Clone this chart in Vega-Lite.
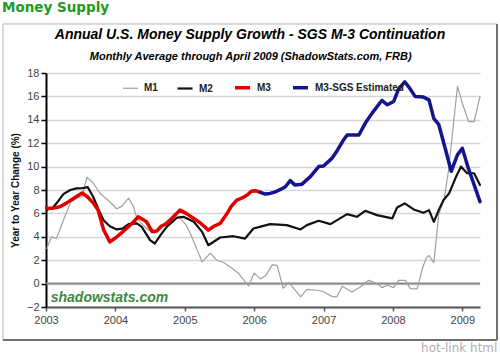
{
  "$schema": "https://vega.github.io/schema/vega-lite/v6.json",
  "autosize": "none",
  "width": 434,
  "height": 234,
  "padding": {"left": 46, "top": 73, "right": 20, "bottom": 53},
  "background": "white",
  "config": {"view": {"stroke": null}, "font": "Liberation Sans"},
  "resolve": {"axis": {"x": "independent", "y": "independent"}},
  "layer": [
    {
      "data": {"values": [{}]},
      "mark": {"type": "rect", "fillOpacity": 0, "stroke": "#b4b4b4", "strokeWidth": 1},
      "encoding": {
        "x": {"datum": 2002.38, "type": "quantitative", "axis": null},
        "x2": {"datum": 2009.5},
        "y": {"datum": 22.19, "type": "quantitative", "axis": null},
        "y2": {"datum": -4.82}
      }
    },
    {
      "data": {"values": [{}]},
      "mark": {"type": "rule", "stroke": "#707070", "strokeWidth": 2},
      "encoding": {
        "x": {"datum": 2002.38, "type": "quantitative", "axis": null},
        "x2": {"datum": 2009.5},
        "y": {"datum": -4.82, "type": "quantitative", "axis": null}
      }
    },
    {
      "data": {"values": [{}]},
      "mark": {"type": "rule", "stroke": "#707070", "strokeWidth": 2},
      "encoding": {
        "x": {"datum": 2009.5, "type": "quantitative", "axis": null},
        "y": {"datum": 22.19, "type": "quantitative", "axis": null},
        "y2": {"datum": -4.82}
      }
    },
    {
      "data": {"values": [{}]},
      "mark": {"type": "rule", "stroke": "#8a8a8a", "strokeWidth": 2},
      "encoding": {
        "y": {"datum": 0, "type": "quantitative", "axis": null}
      }
    },
    {
      "data": {"values": [{"label": "Money Supply"}]},
      "mark": {"type": "text", "font": "DejaVu Sans", "fontSize": 13.5, "fontWeight": "bold", "color": "#229922", "align": "left", "baseline": "alphabetic"},
      "encoding": {
        "x": {"datum": 2002.366, "type": "quantitative", "axis": null},
        "y": {"datum": 23.21, "type": "quantitative", "axis": null},
        "text": {"field": "label"}
      }
    },
    {
      "data": {"values": [{"label": "Annual U.S. Money Supply Growth - SGS M-3 Continuation"}]},
      "mark": {"type": "text", "font": "Liberation Sans", "fontSize": 14, "fontWeight": "bold", "fontStyle": "italic", "color": "#000", "align": "center", "baseline": "alphabetic"},
      "encoding": {
        "x": {"datum": 2005.94, "type": "quantitative", "axis": null},
        "y": {"datum": 20.906, "type": "quantitative", "axis": null},
        "text": {"field": "label"}
      }
    },
    {
      "data": {"values": [{"label": "Monthly Average through April 2009 (ShadowStats.com, FRB)"}]},
      "mark": {"type": "text", "font": "Liberation Sans", "fontSize": 11, "fontWeight": "bold", "fontStyle": "italic", "color": "#000", "align": "center", "baseline": "alphabetic"},
      "encoding": {
        "x": {"datum": 2005.95, "type": "quantitative", "axis": null},
        "y": {"datum": 19.11, "type": "quantitative", "axis": null},
        "text": {"field": "label"}
      }
    },
    {
      "data": {"values": [{"label": "shadowstats.com"}]},
      "mark": {"type": "text", "font": "Liberation Sans", "fontSize": 14, "fontWeight": "bold", "fontStyle": "italic", "color": "#3d8a3d", "align": "left", "baseline": "alphabetic"},
      "encoding": {
        "x": {"datum": 2003.068, "type": "quantitative", "axis": null},
        "y": {"datum": -1.547, "type": "quantitative", "axis": null},
        "text": {"field": "label"}
      }
    },
    {
      "data": {"values": [{"label": "hot-link html"}]},
      "mark": {"type": "text", "font": "DejaVu Sans", "fontSize": 12, "color": "#b0b0b0", "align": "left", "baseline": "alphabetic"},
      "encoding": {
        "x": {"datum": 2008.405, "type": "quantitative", "axis": null},
        "y": {"datum": -5.846, "type": "quantitative", "axis": null},
        "text": {"field": "label"}
      }
    },
    {
      "data": {"values": [
        {"s":"M1","t":2003.01,"v":3.0},{"s":"M1","t":2003.08,"v":4.0},{"s":"M1","t":2003.15,"v":3.85},{"s":"M1","t":2003.25,"v":5.4},{"s":"M1","t":2003.35,"v":6.9},{"s":"M1","t":2003.44,"v":7.3},{"s":"M1","t":2003.52,"v":7.4},{"s":"M1","t":2003.59,"v":9.1},{"s":"M1","t":2003.68,"v":8.6},{"s":"M1","t":2003.78,"v":7.7},{"s":"M1","t":2003.9,"v":7.1},{"s":"M1","t":2004.02,"v":6.4},{"s":"M1","t":2004.09,"v":6.6},{"s":"M1","t":2004.19,"v":7.3},{"s":"M1","t":2004.26,"v":6.6},{"s":"M1","t":2004.31,"v":5.6},{"s":"M1","t":2004.38,"v":5.1},{"s":"M1","t":2004.47,"v":4.6},{"s":"M1","t":2004.56,"v":4.3},{"s":"M1","t":2004.65,"v":4.8},{"s":"M1","t":2004.75,"v":5.4},{"s":"M1","t":2004.85,"v":5.6},{"s":"M1","t":2004.93,"v":5.6},{"s":"M1","t":2005.02,"v":5.0},{"s":"M1","t":2005.1,"v":4.0},{"s":"M1","t":2005.25,"v":1.86},{"s":"M1","t":2005.37,"v":2.6},{"s":"M1","t":2005.46,"v":2.0},{"s":"M1","t":2005.56,"v":1.8},{"s":"M1","t":2005.66,"v":1.4},{"s":"M1","t":2005.77,"v":0.9},{"s":"M1","t":2005.92,"v":-0.2},{"s":"M1","t":2006.0,"v":0.9},{"s":"M1","t":2006.09,"v":0.4},{"s":"M1","t":2006.17,"v":0.7},{"s":"M1","t":2006.26,"v":1.6},{"s":"M1","t":2006.33,"v":1.55},{"s":"M1","t":2006.42,"v":-0.4},{"s":"M1","t":2006.5,"v":0.1},{"s":"M1","t":2006.67,"v":-1.14},{"s":"M1","t":2006.76,"v":-0.5},{"s":"M1","t":2006.91,"v":-0.57},{"s":"M1","t":2007.0,"v":-0.7},{"s":"M1","t":2007.12,"v":-1.09},{"s":"M1","t":2007.19,"v":-1.14},{"s":"M1","t":2007.27,"v":-0.23},{"s":"M1","t":2007.41,"v":-0.72},{"s":"M1","t":2007.53,"v":-0.29},{"s":"M1","t":2007.65,"v":0.28},{"s":"M1","t":2007.77,"v":0.0},{"s":"M1","t":2007.84,"v":-0.34},{"s":"M1","t":2007.92,"v":-0.14},{"s":"M1","t":2008.01,"v":-0.34},{"s":"M1","t":2008.08,"v":0.28},{"s":"M1","t":2008.18,"v":0.28},{"s":"M1","t":2008.25,"v":-0.43},{"s":"M1","t":2008.35,"v":-0.45},{"s":"M1","t":2008.42,"v":1.2},{"s":"M1","t":2008.48,"v":2.2},{"s":"M1","t":2008.52,"v":2.4},{"s":"M1","t":2008.59,"v":1.8},{"s":"M1","t":2008.66,"v":5.9},{"s":"M1","t":2008.74,"v":7.3},{"s":"M1","t":2008.8,"v":9.6},{"s":"M1","t":2008.93,"v":16.85},{"s":"M1","t":2009.0,"v":15.42},{"s":"M1","t":2009.09,"v":13.85},{"s":"M1","t":2009.17,"v":13.85},{"s":"M1","t":2009.255,"v":16.0},
        {"s":"M2","t":2003.01,"v":6.3},{"s":"M2","t":2003.1,"v":6.5},{"s":"M2","t":2003.17,"v":7.0},{"s":"M2","t":2003.25,"v":7.65},{"s":"M2","t":2003.35,"v":8.0},{"s":"M2","t":2003.44,"v":8.14},{"s":"M2","t":2003.52,"v":8.15},{"s":"M2","t":2003.6,"v":8.25},{"s":"M2","t":2003.68,"v":7.42},{"s":"M2","t":2003.75,"v":6.43},{"s":"M2","t":2003.83,"v":5.42},{"s":"M2","t":2003.92,"v":4.9},{"s":"M2","t":2004.02,"v":4.63},{"s":"M2","t":2004.1,"v":4.7},{"s":"M2","t":2004.19,"v":5.08},{"s":"M2","t":2004.31,"v":5.14},{"s":"M2","t":2004.38,"v":4.85},{"s":"M2","t":2004.5,"v":3.71},{"s":"M2","t":2004.57,"v":3.43},{"s":"M2","t":2004.65,"v":4.14},{"s":"M2","t":2004.74,"v":4.85},{"s":"M2","t":2004.89,"v":5.65},{"s":"M2","t":2004.98,"v":5.71},{"s":"M2","t":2005.13,"v":5.28},{"s":"M2","t":2005.25,"v":4.42},{"s":"M2","t":2005.34,"v":3.28},{"s":"M2","t":2005.51,"v":3.94},{"s":"M2","t":2005.7,"v":4.05},{"s":"M2","t":2005.87,"v":3.85},{"s":"M2","t":2005.99,"v":4.71},{"s":"M2","t":2006.08,"v":4.85},{"s":"M2","t":2006.23,"v":5.08},{"s":"M2","t":2006.47,"v":5.0},{"s":"M2","t":2006.67,"v":4.63},{"s":"M2","t":2006.76,"v":5.0},{"s":"M2","t":2006.93,"v":5.37},{"s":"M2","t":2007.1,"v":5.08},{"s":"M2","t":2007.34,"v":5.94},{"s":"M2","t":2007.48,"v":5.71},{"s":"M2","t":2007.6,"v":6.22},{"s":"M2","t":2007.77,"v":5.85},{"s":"M2","t":2007.99,"v":5.57},{"s":"M2","t":2008.06,"v":6.51},{"s":"M2","t":2008.17,"v":6.85},{"s":"M2","t":2008.3,"v":6.34},{"s":"M2","t":2008.44,"v":6.05},{"s":"M2","t":2008.52,"v":6.28},{"s":"M2","t":2008.59,"v":5.28},{"s":"M2","t":2008.66,"v":6.28},{"s":"M2","t":2008.73,"v":7.14},{"s":"M2","t":2008.81,"v":7.71},{"s":"M2","t":2008.9,"v":9.0},{"s":"M2","t":2008.98,"v":10.0},{"s":"M2","t":2009.07,"v":9.43},{"s":"M2","t":2009.17,"v":9.43},{"s":"M2","t":2009.255,"v":8.42},
        {"s":"M3","t":2003.01,"v":6.43},{"s":"M3","t":2003.1,"v":6.45},{"s":"M3","t":2003.2,"v":6.57},{"s":"M3","t":2003.3,"v":6.9},{"s":"M3","t":2003.4,"v":7.3},{"s":"M3","t":2003.52,"v":7.75},{"s":"M3","t":2003.6,"v":7.4},{"s":"M3","t":2003.68,"v":6.9},{"s":"M3","t":2003.75,"v":6.3},{"s":"M3","t":2003.83,"v":4.6},{"s":"M3","t":2003.92,"v":3.57},{"s":"M3","t":2004.0,"v":3.9},{"s":"M3","t":2004.08,"v":4.3},{"s":"M3","t":2004.16,"v":4.71},{"s":"M3","t":2004.25,"v":5.2},{"s":"M3","t":2004.33,"v":5.71},{"s":"M3","t":2004.45,"v":5.28},{"s":"M3","t":2004.53,"v":4.45},{"s":"M3","t":2004.6,"v":4.5},{"s":"M3","t":2004.66,"v":4.9},{"s":"M3","t":2004.74,"v":5.14},{"s":"M3","t":2004.85,"v":5.8},{"s":"M3","t":2004.93,"v":6.28},{"s":"M3","t":2005.02,"v":6.0},{"s":"M3","t":2005.13,"v":5.57},{"s":"M3","t":2005.22,"v":5.2},{"s":"M3","t":2005.34,"v":4.57},{"s":"M3","t":2005.42,"v":4.9},{"s":"M3","t":2005.51,"v":5.14},{"s":"M3","t":2005.6,"v":5.9},{"s":"M3","t":2005.67,"v":6.6},{"s":"M3","t":2005.75,"v":7.14},{"s":"M3","t":2005.82,"v":7.3},{"s":"M3","t":2005.9,"v":7.57},{"s":"M3","t":2005.96,"v":7.9},{"s":"M3","t":2006.02,"v":7.94},{"s":"M3","t":2006.09,"v":7.8},
        {"s":"M3-SGS Estimated","t":2006.09,"v":7.8},{"s":"M3-SGS Estimated","t":2006.16,"v":7.65},{"s":"M3-SGS Estimated","t":2006.23,"v":7.71},{"s":"M3-SGS Estimated","t":2006.31,"v":7.85},{"s":"M3-SGS Estimated","t":2006.38,"v":8.05},{"s":"M3-SGS Estimated","t":2006.45,"v":8.28},{"s":"M3-SGS Estimated","t":2006.52,"v":8.8},{"s":"M3-SGS Estimated","t":2006.59,"v":8.42},{"s":"M3-SGS Estimated","t":2006.69,"v":8.5},{"s":"M3-SGS Estimated","t":2006.81,"v":9.14},{"s":"M3-SGS Estimated","t":2006.93,"v":10.0},{"s":"M3-SGS Estimated","t":2007.0,"v":10.05},{"s":"M3-SGS Estimated","t":2007.12,"v":10.7},{"s":"M3-SGS Estimated","t":2007.2,"v":11.4},{"s":"M3-SGS Estimated","t":2007.28,"v":12.2},{"s":"M3-SGS Estimated","t":2007.34,"v":12.7},{"s":"M3-SGS Estimated","t":2007.51,"v":12.7},{"s":"M3-SGS Estimated","t":2007.6,"v":13.7},{"s":"M3-SGS Estimated","t":2007.7,"v":14.57},{"s":"M3-SGS Estimated","t":2007.84,"v":15.65},{"s":"M3-SGS Estimated","t":2007.92,"v":15.28},{"s":"M3-SGS Estimated","t":2008.01,"v":15.56},{"s":"M3-SGS Estimated","t":2008.08,"v":16.6},{"s":"M3-SGS Estimated","t":2008.17,"v":17.25},{"s":"M3-SGS Estimated","t":2008.23,"v":16.8},{"s":"M3-SGS Estimated","t":2008.32,"v":16.0},{"s":"M3-SGS Estimated","t":2008.44,"v":15.94},{"s":"M3-SGS Estimated","t":2008.52,"v":15.7},{"s":"M3-SGS Estimated","t":2008.59,"v":14.1},{"s":"M3-SGS Estimated","t":2008.66,"v":13.6},{"s":"M3-SGS Estimated","t":2008.76,"v":11.42},{"s":"M3-SGS Estimated","t":2008.84,"v":9.6},{"s":"M3-SGS Estimated","t":2008.93,"v":11.0},{"s":"M3-SGS Estimated","t":2009.0,"v":11.57},{"s":"M3-SGS Estimated","t":2009.09,"v":9.8},{"s":"M3-SGS Estimated","t":2009.255,"v":7.0}
      ]},
      "mark": {"type": "line", "interpolate": "linear", "strokeJoin": "round", "strokeCap": "round"},
      "encoding": {
        "x": {
          "field": "t", "type": "quantitative",
          "scale": {"domain": [2003, 2009.255], "nice": false, "zero": false},
          "axis": {
            "title": null, "values": [2003, 2004, 2005, 2006, 2007, 2008, 2009], "format": "d",
            "grid": false, "domainColor": "#555", "domainWidth": 2, "tickColor": "#555", "tickSize": 4, "tickWidth": 1.5,
            "labelFont": "Liberation Sans", "labelFontSize": 11, "labelColor": "#444", "labelPadding": 3, "labelFlush": false, "labelOverlap": false
          }
        },
        "y": {
          "field": "v", "type": "quantitative",
          "scale": {"domain": [-2, 18], "nice": false, "zero": false},
          "axis": {
            "title": "Year to Year Change (%)", "values": [-2, 0, 2, 4, 6, 8, 10, 12, 14, 16, 18], "format": "d",
            "grid": true, "gridColor": "#d6d6d6", "gridWidth": 1.3, "labelOverlap": false,
            "domainColor": "#000", "domainWidth": 2, "tickColor": "#000", "tickSize": 5, "tickWidth": 1.5,
            "labelFont": "Liberation Sans", "labelFontSize": 11, "labelColor": "#444", "labelPadding": 2,
            "titleFont": "Liberation Sans", "titleFontSize": 10, "titleFontWeight": "bold", "titleColor": "#111", "titlePadding": 6
          }
        },
        "color": {
          "field": "s", "type": "nominal",
          "scale": {"domain": ["M1", "M2", "M3", "M3-SGS Estimated"], "range": ["#a0a0a0", "#111111", "#e00000", "#14148f"]},
          "legend": {
            "orient": "none", "legendX": 76, "legendY": 5, "direction": "horizontal", "title": null,
            "labelFont": "Liberation Sans", "labelFontSize": 10, "labelFontWeight": "bold", "labelColor": "#222",
            "labelOffset": 5, "columnPadding": 15, "symbolSize": 225, "symbolType": "stroke", "symbolStrokeWidth": 3,
            "encode": {
              "symbols": {
                "update": {
                  "strokeWidth": {"signal": "datum.value === 'M1' ? 1.5 : datum.value === 'M2' ? 2.5 : 3.5"}
                }
              }
            }
          }
        },
        "strokeWidth": {
          "field": "s", "type": "nominal",
          "scale": {"type": "ordinal", "domain": ["M1", "M2", "M3", "M3-SGS Estimated"], "range": [1.2, 2.2, 3.5, 3.5]},
          "legend": null
        }
      }
    }
  ]
}
